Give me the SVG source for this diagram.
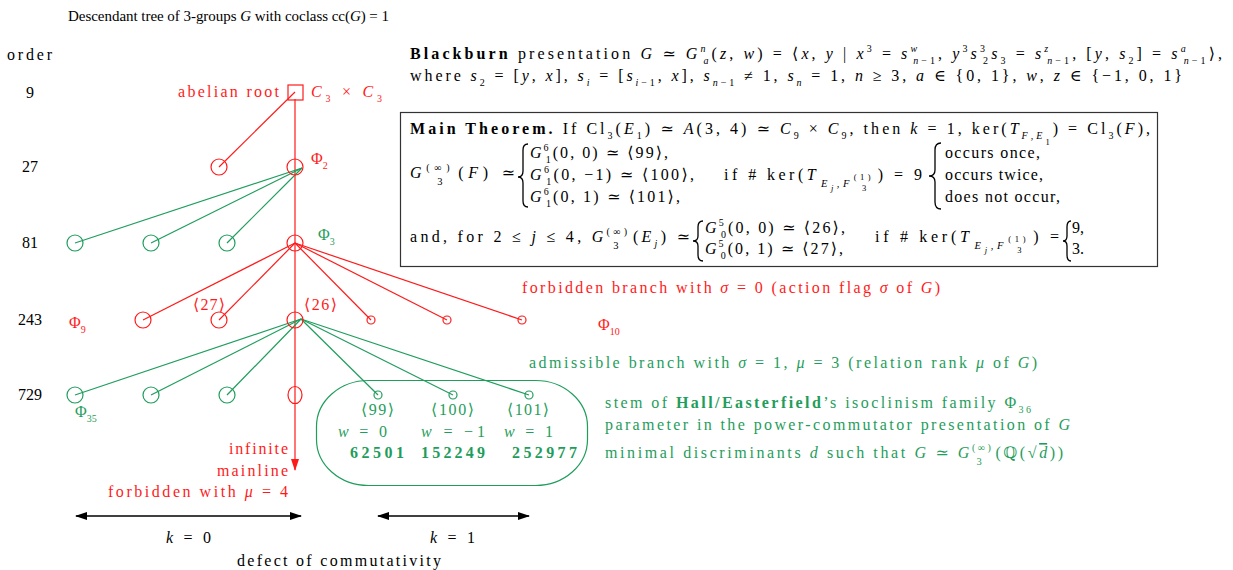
<svg xmlns="http://www.w3.org/2000/svg" width="1233" height="570" viewBox="0 0 1233 570">
<defs>
<style>
text{font-family:"Liberation Serif","DejaVu Serif",serif;font-size:16px;fill:#000}
.i{font-style:italic}
.b{font-weight:bold}
.sp{font-size:10px;baseline-shift:7px}
.sb{font-size:10px;baseline-shift:-4.5px}
.sb2{font-size:10.5px;baseline-shift:-7px}
.sb3{font-size:8.5px;baseline-shift:-10.5px}
.sp3{font-size:8.5px;baseline-shift:0px}
.red{fill:#ff1a1a}
.grn{fill:#1f9d5c}
.rl{stroke:#ff1a1a;stroke-width:1.2;fill:none}
.gl{stroke:#1f9d5c;stroke-width:1.2;fill:none}
.bl{stroke:#000;stroke-width:1.3;fill:none}
.brace{stroke:#000;stroke-width:1.3;fill:none}
</style>
<marker id="ah" viewBox="0 0 12 8" refX="11" refY="4" markerWidth="12" markerHeight="8" markerUnits="userSpaceOnUse" orient="auto-start-reverse">
<path d="M0,0 L12,4 L0,8 Z" fill="#000"/>
</marker>
<marker id="ahr" viewBox="0 0 12 8" refX="11" refY="4" markerWidth="12" markerHeight="8" markerUnits="userSpaceOnUse" orient="auto">
<path d="M0,0 L12,4 L0,8 Z" fill="#ff1a1a"/>
</marker>
</defs>
<rect width="1233" height="570" fill="#fff"/>

<text x="68" y="21" style="font-size:15px" textLength="321" lengthAdjust="spacing">Descendant tree of 3-groups <tspan class="i">G</tspan> with coclass cc(<tspan class="i">G</tspan>) = 1</text>
<text x="7" y="60" textLength="45" lengthAdjust="spacing">order</text>
<g id="order-labels" text-anchor="middle">
<text x="30" y="98">9</text>
<text x="30" y="172">27</text>
<text x="30" y="248">81</text>
<text x="30" y="325">243</text>
<text x="30" y="400">729</text>
</g>

<text x="410" y="59" textLength="812" lengthAdjust="spacing"><tspan class="b">Blackburn</tspan> presentation <tspan class="i">G</tspan> ≃ <tspan class="i">G</tspan><tspan class="sp i">n</tspan><tspan class="sb i" dx="-5">a</tspan>(<tspan class="i">z</tspan>, <tspan class="i">w</tspan>) = ⟨<tspan class="i">x</tspan>, <tspan class="i">y</tspan> | <tspan class="i">x</tspan><tspan class="sp">3</tspan> = <tspan class="i">s</tspan><tspan class="sp i">w</tspan><tspan class="sb i" dx="-7">n</tspan><tspan class="sb">−1</tspan>,  <tspan class="i">y</tspan><tspan class="sp">3</tspan><tspan class="i">s</tspan><tspan class="sp">3</tspan><tspan class="sb" dx="-5">2</tspan><tspan class="i">s</tspan><tspan class="sb">3</tspan> = <tspan class="i">s</tspan><tspan class="sp i">z</tspan><tspan class="sb i" dx="-4">n</tspan><tspan class="sb">−1</tspan>,  [<tspan class="i">y</tspan>, <tspan class="i">s</tspan><tspan class="sb">2</tspan>] = <tspan class="i">s</tspan><tspan class="sp i">a</tspan><tspan class="sb i" dx="-5">n</tspan><tspan class="sb">−1</tspan>⟩,</text>
<text x="410" y="81" textLength="772" lengthAdjust="spacing">where <tspan class="i">s</tspan><tspan class="sb">2</tspan> = [<tspan class="i">y</tspan>, <tspan class="i">x</tspan>],  <tspan class="i">s</tspan><tspan class="sb i">i</tspan> = [<tspan class="i">s</tspan><tspan class="sb i">i</tspan><tspan class="sb">−1</tspan>, <tspan class="i">x</tspan>],  <tspan class="i">s</tspan><tspan class="sb i">n</tspan><tspan class="sb">−1</tspan> ≠ 1,  <tspan class="i">s</tspan><tspan class="sb i">n</tspan> = 1,  <tspan class="i">n</tspan> ≥ 3,  <tspan class="i">a</tspan> ∈ {0, 1},  <tspan class="i">w</tspan>, <tspan class="i">z</tspan> ∈ {−1, 0, 1}</text>

<g id="theorem">
<rect x="400.5" y="112.5" width="757" height="154" fill="none" stroke="#333" stroke-width="1.2"/>
<text x="410" y="134" textLength="740" lengthAdjust="spacing"><tspan class="b">Main Theorem.</tspan> If Cl<tspan class="sb">3</tspan>(<tspan class="i">E</tspan><tspan class="sb">1</tspan>) ≃ <tspan class="i">A</tspan>(3, 4) ≃ <tspan class="i">C</tspan><tspan class="sb">9</tspan> × <tspan class="i">C</tspan><tspan class="sb">9</tspan>, then <tspan class="i">k</tspan> = 1, ker(<tspan class="i">T</tspan><tspan class="sb i">F</tspan><tspan class="sb">,</tspan><tspan class="sb i">E</tspan><tspan class="sb3">1</tspan>) = Cl<tspan class="sb">3</tspan>(<tspan class="i">F</tspan>),</text>
<text x="410" y="178" textLength="105" lengthAdjust="spacing"><tspan class="i">G</tspan><tspan class="sp">(∞)</tspan><tspan class="sb2" dx="-17">3</tspan><tspan dx="11">(</tspan><tspan class="i">F</tspan>) ≃</text>
<path class="brace" d="M528,144 Q523,144 523,150 L523,171 Q523,177 518,177 Q523,177 523,183 L523,201 Q523,207 528,207"/>
<text x="530" y="158" textLength="138" lengthAdjust="spacing"><tspan class="i">G</tspan><tspan class="sp">6</tspan><tspan class="sb" dx="-5">1</tspan>(0, 0) ≃ ⟨99⟩,</text>
<text x="530" y="180" textLength="164" lengthAdjust="spacing"><tspan class="i">G</tspan><tspan class="sp">6</tspan><tspan class="sb" dx="-5">1</tspan>(0, −1) ≃ ⟨100⟩,</text>
<text x="530" y="202" textLength="150" lengthAdjust="spacing"><tspan class="i">G</tspan><tspan class="sp">6</tspan><tspan class="sb" dx="-5">1</tspan>(0, 1) ≃ ⟨101⟩,</text>
<text x="724" y="180" textLength="198" lengthAdjust="spacing">if # ker(<tspan class="i">T</tspan><tspan class="sb2 i" dx="2">E</tspan><tspan class="sb3 i">j</tspan><tspan class="sb2">,</tspan><tspan class="sb2 i">F</tspan><tspan class="sp3" dx="1">(1)</tspan><tspan class="sb3" dx="-12">3</tspan><tspan dx="8">) = 9</tspan></text>
<path class="brace" d="M941,143 Q935,143 935,150 L935,170 Q935,176 929,176 Q935,176 935,182 L935,202 Q935,209 941,209"/>
<text x="945" y="158" textLength="95" lengthAdjust="spacing">occurs once,</text>
<text x="945" y="180" textLength="98" lengthAdjust="spacing">occurs twice,</text>
<text x="945" y="202" textLength="115" lengthAdjust="spacing">does not occur,</text>
<text x="410" y="242" textLength="280" lengthAdjust="spacing">and, for 2 ≤ <tspan class="i">j</tspan> ≤ 4, <tspan class="i">G</tspan><tspan class="sp">(∞)</tspan><tspan class="sb2" dx="-17">3</tspan><tspan dx="11">(</tspan><tspan class="i">E</tspan><tspan class="sb i">j</tspan>) ≃</text>
<path class="brace" d="M703,221 Q698,221 698,227 L698,236 Q698,241 693,241 Q698,241 698,246 L698,255 Q698,261 703,261"/>
<text x="705" y="233" textLength="140" lengthAdjust="spacing"><tspan class="i">G</tspan><tspan class="sp">5</tspan><tspan class="sb" dx="-5">0</tspan>(0, 0) ≃ ⟨26⟩,</text>
<text x="705" y="254" textLength="138" lengthAdjust="spacing"><tspan class="i">G</tspan><tspan class="sp">5</tspan><tspan class="sb" dx="-5">0</tspan>(0, 1) ≃ ⟨27⟩,</text>
<text x="875" y="242" textLength="184" lengthAdjust="spacing">if # ker(<tspan class="i">T</tspan><tspan class="sb2 i" dx="2">E</tspan><tspan class="sb3 i">j</tspan><tspan class="sb2">,</tspan><tspan class="sb2 i">F</tspan><tspan class="sp3" dx="1">(1)</tspan><tspan class="sb3" dx="-12">3</tspan><tspan dx="8">) =</tspan></text>
<path class="brace" d="M1071,221 Q1067,221 1067,227 L1067,236 Q1067,241 1063,241 Q1067,241 1067,246 L1067,255 Q1067,261 1071,261"/>
<text x="1072" y="233">9,</text>
<text x="1072" y="254">3.</text>
</g>

<g id="connectors">
<line class="rl" x1="295" y1="92" x2="219" y2="167"/>
<line class="rl" x1="295" y1="99" x2="295" y2="470" marker-end="url(#ahr)"/>
<line class="gl" x1="302" y1="168" x2="75" y2="243"/>
<line class="gl" x1="302" y1="168" x2="151" y2="243"/>
<line class="gl" x1="302" y1="168" x2="227" y2="243"/>
<line class="rl" x1="295" y1="243" x2="143" y2="320"/>
<line class="rl" x1="295" y1="243" x2="219" y2="320"/>
<line class="rl" x1="295" y1="243" x2="371" y2="320"/>
<line class="rl" x1="295" y1="243" x2="447" y2="320"/>
<line class="rl" x1="295" y1="243" x2="522" y2="320"/>
<line class="gl" x1="301" y1="319" x2="75" y2="395"/>
<line class="gl" x1="301" y1="319" x2="151" y2="395"/>
<line class="gl" x1="301" y1="319" x2="227" y2="395"/>
<line class="gl" x1="301" y1="319" x2="378" y2="395"/>
<line class="gl" x1="301" y1="319" x2="453" y2="395"/>
<line class="gl" x1="301" y1="319" x2="529" y2="395"/>
<line class="bl" x1="76" y1="516" x2="301" y2="516" marker-start="url(#ah)" marker-end="url(#ah)"/>
<line class="bl" x1="378" y1="516" x2="529" y2="516" marker-start="url(#ah)" marker-end="url(#ah)"/>
</g>

<g id="root">
<rect class="rl" x="288" y="85" width="15" height="15"/>
<text class="red" x="279" y="97" text-anchor="end" textLength="101" lengthAdjust="spacing">abelian root</text>
<text class="red" x="311" y="97" textLength="71" lengthAdjust="spacing"><tspan class="i">C</tspan><tspan class="sb">3</tspan> × <tspan class="i">C</tspan><tspan class="sb">3</tspan></text>
</g>
<g id="n27a"><circle class="rl" cx="219" cy="167" r="8"/></g>
<g id="n27b"><circle class="rl" cx="295" cy="167" r="8"/><text class="red" x="311" y="164">Φ<tspan class="sb">2</tspan></text></g>
<g id="n81a"><circle class="gl" cx="75" cy="243" r="8"/></g>
<g id="n81b"><circle class="gl" cx="151" cy="243" r="8"/></g>
<g id="n81c"><circle class="gl" cx="227" cy="243" r="8"/></g>
<g id="n81d"><circle class="rl" cx="295" cy="243" r="8"/><text class="grn" x="318" y="240">Φ<tspan class="sb">3</tspan></text></g>
<g id="phi9"><text class="red" x="69" y="328">Φ<tspan class="sb">9</tspan></text></g>
<g id="n243a"><circle class="rl" cx="143" cy="320" r="8"/></g>
<g id="n243b"><circle class="rl" cx="219" cy="320" r="8"/><text class="red" x="193" y="310" textLength="32" lengthAdjust="spacing">⟨27⟩</text></g>
<g id="n243c"><circle class="rl" cx="295" cy="320" r="8"/><text class="red" x="304" y="310" textLength="33" lengthAdjust="spacing">⟨26⟩</text></g>
<g id="n243d"><circle class="rl" cx="371" cy="320" r="4"/></g>
<g id="n243e"><circle class="rl" cx="447" cy="320" r="4"/></g>
<g id="n243f"><circle class="rl" cx="522" cy="320" r="4"/></g>
<g id="phi10"><text class="red" x="598" y="330">Φ<tspan class="sb">10</tspan></text></g>
<g id="n729a"><circle class="gl" cx="75" cy="395" r="8"/><text class="grn" x="75" y="417">Φ<tspan class="sb">35</tspan></text></g>
<g id="n729b"><circle class="gl" cx="151" cy="395" r="8"/></g>
<g id="n729c"><circle class="gl" cx="227" cy="395" r="8"/></g>
<g id="n729d"><ellipse class="rl" cx="295" cy="395" rx="7" ry="8.5"/></g>

<g id="stem">
<rect class="gl" x="316.5" y="380.5" width="271" height="105" rx="52" ry="46"/>
<circle class="gl" cx="378" cy="395" r="4"/>
<circle class="gl" cx="453" cy="395" r="4"/>
<circle class="gl" cx="529" cy="395" r="4"/>
<text class="grn" x="361" y="415" textLength="33" lengthAdjust="spacing">⟨99⟩</text>
<text class="grn" x="431" y="415" textLength="43" lengthAdjust="spacing">⟨100⟩</text>
<text class="grn" x="507" y="415" textLength="42" lengthAdjust="spacing">⟨101⟩</text>
<text class="grn" x="338" y="437" textLength="49" lengthAdjust="spacing"><tspan class="i">w</tspan> = 0</text>
<text class="grn" x="421" y="437" textLength="64" lengthAdjust="spacing"><tspan class="i">w</tspan> = −1</text>
<text class="grn" x="504" y="437" textLength="49" lengthAdjust="spacing"><tspan class="i">w</tspan> = 1</text>
<text class="grn b" x="350" y="458" textLength="54" lengthAdjust="spacing">62501</text>
<text class="grn b" x="421" y="458" textLength="64" lengthAdjust="spacing">152249</text>
<text class="grn b" x="512" y="458" textLength="65" lengthAdjust="spacing">252977</text>
</g>

<text class="red" x="522" y="293" textLength="418" lengthAdjust="spacing">forbidden branch with <tspan class="i">σ</tspan> = 0 (action flag <tspan class="i">σ</tspan> of <tspan class="i">G</tspan>)</text>
<text class="grn" x="529" y="368" textLength="508" lengthAdjust="spacing">admissible branch with <tspan class="i">σ</tspan> = 1,  <tspan class="i">μ</tspan> = 3 (relation rank <tspan class="i">μ</tspan> of <tspan class="i">G</tspan>)</text>
<text class="grn" x="605" y="408" textLength="426" lengthAdjust="spacing">stem of <tspan class="b">Hall/Easterfield</tspan>’s isoclinism family Φ<tspan class="sb">36</tspan></text>
<text class="grn" x="605" y="430" textLength="465" lengthAdjust="spacing">parameter in the power-commutator presentation of <tspan class="i">G</tspan></text>
<text class="grn" x="605" y="458" textLength="458" lengthAdjust="spacing">minimal discriminants <tspan class="i">d</tspan> such that <tspan class="i">G</tspan> ≃ <tspan class="i">G</tspan><tspan class="sp">(∞)</tspan><tspan class="sb2" dx="-17">3</tspan><tspan dx="11">(ℚ(√</tspan><tspan class="i" style="text-decoration:overline">d</tspan>))</text>

<g text-anchor="end">
<text class="red" x="288" y="454" textLength="59" lengthAdjust="spacing">infinite</text>
<text class="red" x="288" y="476" textLength="71" lengthAdjust="spacing">mainline</text>
<text class="red" x="288" y="497" textLength="180" lengthAdjust="spacing">forbidden with <tspan class="i">μ</tspan> = 4</text>
</g>
<text x="166" y="543" textLength="45" lengthAdjust="spacing"><tspan class="i">k</tspan> = 0</text>
<text x="430" y="543" textLength="45" lengthAdjust="spacing"><tspan class="i">k</tspan> = 1</text>
<text x="237" y="566" textLength="204" lengthAdjust="spacing">defect of commutativity</text>
</svg>
